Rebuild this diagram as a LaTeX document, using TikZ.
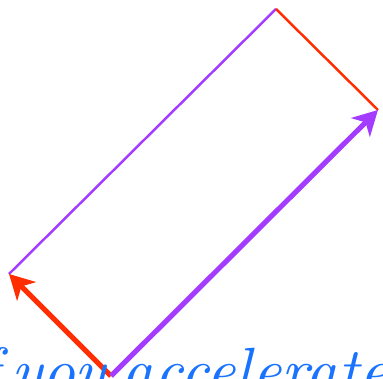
\documentclass[tikz,border=0pt]{standalone}
\usepackage{fontspec}
\newfontfamily\capfont{lmroman10-italic.otf}
\usepackage{tikz}
\usetikzlibrary{arrows.meta,positioning}
\definecolor{xRed}{RGB}{255,45,0}
\definecolor{xPurple}{RGB}{163,60,255}
\definecolor{xBlue}{RGB}{25,115,255}

\begin{document}
\begin{tikzpicture}[
    vec/.style={line width=1.45pt,-{Stealth[length=7pt,width=7.5pt,inset=2pt]}},
    side/.style={line width=0.7pt}]
    \clip (0,0) rectangle (3.83,3.79);
    % corners of the box
    \coordinate (o) at (1.11,0.03);
    \coordinate (l) at (0.09,1.05);
    \coordinate (t) at (2.76,3.70);
    \coordinate (r) at (3.78,2.69);

    \draw[side,xPurple] (l) -- (t);
    \draw[side,xRed] (t) -- (r);
    \draw[vec,xRed] (o) -- (l);
    \draw[vec,xPurple] (o) -- (r);

    \node[anchor=base west,inner sep=0pt,text=xBlue,
      font=\fontsize{18.2}{22}\capfont] (caption) at (-0.46,-0.136)
      {\spaceskip=0.19em\relax If you accelerate};
\end{tikzpicture}
\end{document}
